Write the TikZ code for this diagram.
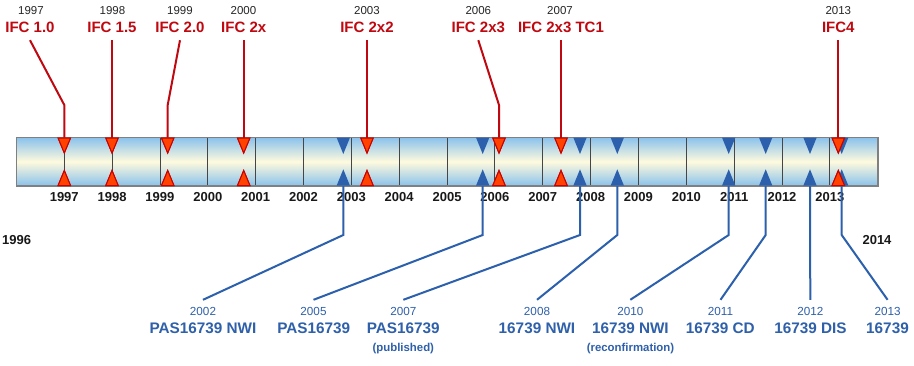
\documentclass[tikz,border=0pt]{standalone}
\usepackage{fontspec}
\setmainfont{Liberation Sans}
\definecolor{redtxt}{RGB}{192,8,16}
\definecolor{redfill}{RGB}{255,66,0}
\definecolor{rededge}{RGB}{200,0,0}
\definecolor{bluetxt}{RGB}{47,96,170}
\definecolor{bluefill}{RGB}{44,96,172}
\definecolor{barblue}{RGB}{138,194,236}
\definecolor{barcream}{RGB}{255,250,222}
\definecolor{barframe}{RGB}{128,128,128}
\definecolor{divcol}{RGB}{70,70,70}
\begin{document}
\begin{tikzpicture}[x=1pt,y=-1pt,
  redname/.style={anchor=base,font=\bfseries\fontsize{15}{15}\selectfont,text=redtxt,text height=10.7pt,text depth=0pt,inner xsep=1pt,inner ysep=7.35pt},
  yeartop/.style={anchor=base,font=\fontsize{11.5}{11.5}\selectfont,text=black!85,inner sep=0pt},
  baryear/.style={anchor=base,font=\bfseries\fontsize{13}{13}\selectfont,text=black!90,inner sep=0pt},
  blueyear/.style={anchor=base,font=\fontsize{11.7}{11.7}\selectfont,text=bluetxt,text height=8.4pt,text depth=0pt,inner xsep=1pt,inner ysep=6.9pt},
  bluename/.style={anchor=base,font=\bfseries\fontsize{15.3}{15.3}\selectfont,text=bluetxt,inner sep=0pt},
  bluenote/.style={anchor=base,font=\bfseries\fontsize{11.4}{11.4}\selectfont,text=bluetxt,inner sep=0pt},
  redline/.style={draw=redtxt,line width=2pt},
  blueline/.style={draw=bluefill,line width=2pt},
  redtri/.style={fill=redfill,draw=rededge,line width=1pt,line join=miter},
  bluetri/.style={fill=bluefill},
  divider/.style={draw=divcol,line width=0.9pt},
  pics/redmark/.style={code={
    \filldraw[redtri] (-6.2,0.5) -- (6.2,0.5) -- (0,15.5) -- cycle;
    \filldraw[redtri] (-6.2,48) -- (6.2,48) -- (0,33) -- cycle;
  }},
  pics/bluemark/.style={code={
    \fill[bluetri] (-6.7,0) -- (6.7,0) -- (0,16.5) -- cycle;
    \fill[bluetri] (-6.7,48.2) -- (6.7,48.2) -- (0,31.8) -- cycle;
  }}
]
\useasboundingbox (0,0) rectangle (914,365);
\fill[white] (0,0) rectangle (914,365);

% bar
\shade[top color=barblue,bottom color=barblue,middle color=barcream] (16.4,137.5) rectangle (877.7,185.7);
\foreach \i in {1,...,17}
  \draw[divider] ({16.4+\i*47.85},137.5) -- ({16.4+\i*47.85},185.7);
\draw[draw=barframe,line width=1.6pt] (16.4,137.5) rectangle (877.7,185.7);

% year labels under the bar
\foreach \i in {1,...,17}{
  \pgfmathtruncatemacro\yr{1996+\i}
  \node[baryear] (yl\yr) at ({16.4+\i*47.85},201.7) {\yr};
}
\node[baryear] (y1996) at (16.6,244) {1996};
\node[baryear] (y2014) at (877,244) {2014};

% marker coordinates
\coordinate (rm1) at (64.3,137.5);
\coordinate (rm2) at (112,137.5);
\coordinate (rm3) at (167.7,137.5);
\coordinate (rm4) at (243.7,137.5);
\coordinate (rm5) at (367,137.5);
\coordinate (rm6) at (499,137.5);
\coordinate (rm7) at (561,137.5);
\coordinate (rm8) at (838.3,137.5);

\coordinate (bm1) at (343.3,186);
\coordinate (bm2) at (482.7,186);
\coordinate (bm3) at (580,186);
\coordinate (bm4) at (617.3,186);
\coordinate (bm5) at (728.7,186);
\coordinate (bm6) at (765.7,186);
\coordinate (bm7) at (810,186);
\coordinate (bm8) at (841.7,186);

% blue markers
\foreach \x in {343.3,482.7,580,617.3,728.7,765.7,810,841.7}
  \pic at (\x,137.5) {bluemark};
% red markers
\foreach \x in {64.3,112,167.7,243.7,367,499,561,838.3}
  \pic at (\x,137.5) {redmark};

% red labels (top)
\node[yeartop] (ry1) at (31,14) {1997};
\node[redname] (rn1) at (30,32.65) {IFC 1.0};
\node[yeartop] (ry2) at (112.5,14) {1998};
\node[redname] (rn2) at (112,32.65) {IFC 1.5};
\node[yeartop] (ry3) at (180,14) {1999};
\node[redname] (rn3) at (180,32.65) {IFC 2.0};
\node[yeartop] (ry4) at (243.5,14) {2000};
\node[redname] (rn4) at (243.7,32.65) {IFC 2x};
\node[yeartop] (ry5) at (367,14) {2003};
\node[redname] (rn5) at (367,32.65) {IFC 2x2};
\node[yeartop] (ry6) at (478.3,14) {2006};
\node[redname] (rn6) at (478.3,32.65) {IFC 2x3};
\node[yeartop] (ry7) at (560,14) {2007};
\node[redname] (rn7) at (561,32.65) {IFC 2x3 TC1};
\node[yeartop] (ry8) at (838.3,14) {2013};
\node[redname] (rn8) at (838.3,32.65) {IFC4};

% red connectors
\draw[redline] (rn1.south) -- (64.3,105) -- (rm1);
\draw[redline] (rn2.south) -- (rm2);
\draw[redline] (rn3.south) -- (167.7,105) -- (rm3);
\draw[redline] (rn4.south) -- (rm4);
\draw[redline] (rn5.south) -- (rm5);
\draw[redline] (rn6.south) -- (499,105) -- (rm6);
\draw[redline] (rn7.south) -- (rm7);
\draw[redline] (rn8.south) -- (rm8);

% redraw red markers on top of lines
\foreach \x in {64.3,112,167.7,243.7,367,499,561,838.3}
  \pic at (\x,137.5) {redmark};

% blue labels (bottom)
\node[blueyear] (by1) at (203,315.3) {2002};
\node[bluename] (bn1) at (203,333.3) {PAS16739 NWI};
\node[blueyear] (by2) at (313.5,315.3) {2005};
\node[bluename] (bn2) at (313.7,333.3) {PAS16739};
\node[blueyear] (by3) at (403.3,315.3) {2007};
\node[bluename] (bn3) at (403.3,333.3) {PAS16739};
\node[bluenote] (bt3) at (403.3,351.6) {(published)};
\node[blueyear] (by4) at (537,315.3) {2008};
\node[bluename] (bn4) at (537,333.3) {16739 NWI};
\node[blueyear] (by5) at (630.3,315.3) {2010};
\node[bluename] (bn5) at (630.5,333.3) {16739 NWI};
\node[bluenote] (bt5) at (630.5,351.6) {(reconfirmation)};
\node[blueyear] (by6) at (720.5,315.3) {2011};
\node[bluename] (bn6) at (720.3,333.3) {16739 CD};
\node[blueyear] (by7) at (810.3,315.3) {2012};
\node[bluename] (bn7) at (810.5,333.3) {16739 DIS};
\node[blueyear] (by8) at (887.6,315.3) {2013};
\node[bluename] (bn8) at (887.5,333.3) {16739};

% blue connectors
\draw[blueline] (bm1) -- ++(0,49) -- (by1.north);
\draw[blueline] (bm2) -- ++(0,49) -- (by2.north);
\draw[blueline] (bm3) -- ++(0,49) -- (by3.north);
\draw[blueline] (bm4) -- ++(0,49) -- (by4.north);
\draw[blueline] (bm5) -- ++(0,49) -- (by5.north);
\draw[blueline] (bm6) -- ++(0,49) -- (by6.north);
\draw[blueline] (bm7) -- (by7.north);
\draw[blueline] (bm8) -- ++(0,49) -- (by8.north);
\end{tikzpicture}
\end{document}
